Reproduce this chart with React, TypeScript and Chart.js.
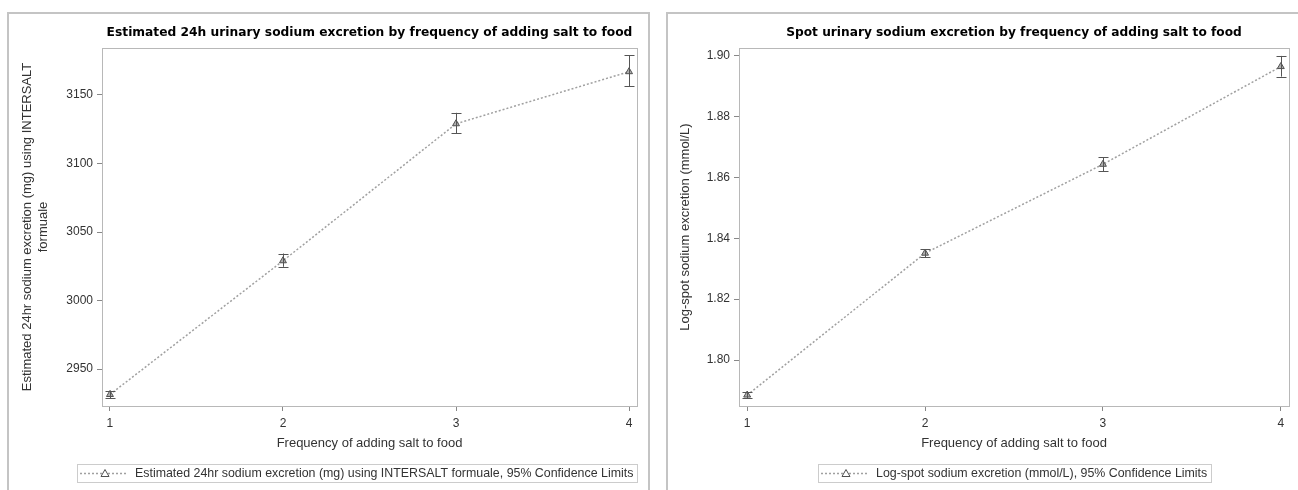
import React, { useEffect, useRef } from 'react';
import { Chart, registerables } from 'chart.js';
Chart.register(...registerables);

// ---- data ----
const xValues = [1, 2, 3, 4];
const xTicks = [1, 2, 3, 4];

const est24Mean = [2931.4, 3029, 3129, 3167];
const est24Lower = [2928.8, 3024.6, 3122, 3156.5];
const est24Upper = [2934.2, 3034.3, 3137, 3179];
const est24YTicks = [2950, 3000, 3050, 3100, 3150];

const spotMean = [1.7885, 1.8351, 1.8643, 1.8964];
const spotLower = [1.7875, 1.8338, 1.8620, 1.8931];
const spotUpper = [1.7895, 1.8364, 1.8666, 1.8999];
const spotYTicks = [1.8, 1.82, 1.84, 1.86, 1.88, 1.9];

const FONT = '"Liberation Sans", Arial, sans-serif';
const TITLE_FONT = '"DejaVu Sans", Verdana, sans-serif';

const errorBarPlugin = {
  id: 'errorBars',
  afterDatasetsDraw(chart: any, _args: any, opts: any) {
    const { ctx, scales } = chart;
    const xs = scales.x;
    const ys = scales.y;
    const lower: number[] = opts.lower || [];
    const upper: number[] = opts.upper || [];
    ctx.save();
    ctx.strokeStyle = '#555555';
    ctx.lineWidth = 1;
    ctx.setLineDash([]);
    for (let i = 0; i < xValues.length; i++) {
      const x = Math.round(xs.getPixelForValue(xValues[i])) + 0.5;
      const yl = ys.getPixelForValue(lower[i]);
      const yu = ys.getPixelForValue(upper[i]);
      ctx.beginPath();
      ctx.moveTo(x, yl);
      ctx.lineTo(x, yu);
      ctx.moveTo(x - 5, Math.round(yl) + 0.5);
      ctx.lineTo(x + 5, Math.round(yl) + 0.5);
      ctx.moveTo(x - 5, Math.round(yu) + 0.5);
      ctx.lineTo(x + 5, Math.round(yu) + 0.5);
      ctx.stroke();
    }
    ctx.restore();
  },
};

const plotBoxPlugin = {
  id: 'plotBox',
  beforeDatasetsDraw(chart: any) {
    const { ctx, chartArea: a } = chart;
    ctx.save();
    ctx.strokeStyle = '#b8b8b8';
    ctx.lineWidth = 1;
    ctx.strokeRect(Math.round(a.left) + 0.5, Math.round(a.top) + 0.5, Math.round(a.right - a.left), Math.round(a.bottom - a.top));
    ctx.restore();
  },
};

const boxLegendPlugin = {
  id: 'boxLegend',
  afterDraw(chart: any, _args: any, opts: any) {
    const { ctx, chartArea: a } = chart;
    const text: string = opts.text || '';
    ctx.save();
    ctx.font = '12.4px ' + FONT;
    const tw = ctx.measureText(text).width;
    const w = Math.round(58 + tw + 4);
    const h = 18;
    const cx = (a.left + a.right) / 2;
    let left = Math.min(cx - w / 2, a.right - w);
    left = Math.round(left);
    const top = opts.top ?? 464;
    ctx.strokeStyle = '#cccccc';
    ctx.lineWidth = 1;
    ctx.strokeRect(left + 0.5, top + 0.5, w, h);
    const cy = top + h / 2 + 0.5;
    // dotted line
    ctx.strokeStyle = '#a0a0a0';
    ctx.lineWidth = 1.5;
    ctx.setLineDash([2, 2]);
    ctx.beginPath();
    ctx.moveTo(left + 3, cy);
    ctx.lineTo(left + 50, cy);
    ctx.stroke();
    ctx.setLineDash([]);
    // triangle
    const tx = left + 28;
    const r = 4;
    ctx.beginPath();
    ctx.moveTo(tx, cy - r);
    ctx.lineTo(tx + r, cy + r * 0.75);
    ctx.lineTo(tx - r, cy + r * 0.75);
    ctx.closePath();
    ctx.fillStyle = '#ffffff';
    ctx.fill();
    ctx.strokeStyle = '#505050';
    ctx.lineWidth = 1;
    ctx.stroke();
    // text
    ctx.fillStyle = '#333333';
    ctx.textBaseline = 'middle';
    ctx.textAlign = 'left';
    ctx.fillText(text, left + 58, cy);
    ctx.restore();
  },
};

function makeConfig(p: {
  title: string;
  titleSize: number;
  yTitle: string | string[];
  yTitlePad: number;
  yTitleLH: number;
  mean: number[];
  lower: number[];
  upper: number[];
  yTicks: number[];
  yMin: number;
  yMax: number;
  yWidth: number;
  padRight: number;
  legendText: string;
  fmt: (v: number) => string;
}): any {
  const tLH = 15 / p.titleSize;
  return {
    type: 'line',
    data: {
      datasets: [
        {
          data: xValues.map((x, i) => ({ x, y: p.mean[i] })),
          borderColor: '#a0a0a0',
          borderWidth: 1.5,
          borderDash: [2, 2],
          pointStyle: 'triangle',
          pointRadius: 4,
          pointBorderWidth: 1,
          pointBorderColor: '#505050',
          pointBackgroundColor: '#b0b0b0',
          tension: 0,
          fill: false,
        },
      ],
    },
    options: {
      animation: false,
      responsive: false,
      maintainAspectRatio: false,
      layout: { padding: { left: 0, top: 0, right: p.padRight, bottom: 39 } },
      plugins: {
        legend: { display: false },
        tooltip: { enabled: false },
        title: {
          display: true,
          text: p.title,
          fullSize: false,
          color: '#000000',
          font: { family: TITLE_FONT, size: p.titleSize, weight: 'bold', lineHeight: tLH },
          padding: { top: 25.5, bottom: 7.5 },
        },
        errorBars: { lower: p.lower, upper: p.upper },
        boxLegend: { text: p.legendText, top: 464 },
      },
      scales: {
        x: {
          type: 'linear',
          min: 0.954,
          max: 4.046,
          afterBuildTicks: (s: any) => {
            s.ticks = xTicks.map((v) => ({ value: v }));
          },
          afterFit: (s: any) => {
            s.height = 45;
          },
          grid: { display: true, drawOnChartArea: false, drawTicks: true, tickLength: 5, color: '#888888' },
          border: { display: false },
          ticks: {
            color: '#333333',
            font: { family: FONT, size: 12 },
            padding: 5,
            maxRotation: 0,
            autoSkip: false,
            callback: (v: any) => String(v),
          },
          title: {
            display: true,
            text: 'Frequency of adding salt to food',
            color: '#333333',
            font: { family: FONT, size: 13, lineHeight: 1.2 },
            padding: { top: 0, bottom: 0.2 },
          },
        },
        y: {
          type: 'linear',
          min: p.yMin,
          max: p.yMax,
          afterBuildTicks: (s: any) => {
            s.ticks = p.yTicks.map((v) => ({ value: v }));
          },
          afterFit: (s: any) => {
            s.width = p.yWidth;
          },
          grid: { display: true, drawOnChartArea: false, drawTicks: true, tickLength: 5, color: '#888888' },
          border: { display: false },
          ticks: {
            color: '#333333',
            font: { family: FONT, size: 12 },
            padding: 4,
            autoSkip: false,
            callback: (v: any) => p.fmt(Number(v)),
          },
          title: {
            display: true,
            text: p.yTitle,
            color: '#333333',
            font: { family: FONT, size: 13, lineHeight: p.yTitleLH },
            padding: { top: p.yTitlePad, bottom: 0 },
          },
        },
      },
    },
    plugins: [plotBoxPlugin, errorBarPlugin, boxLegendPlugin],
  };
}

function ChartCanvas({ config, width, height, left }: { config: any; width: number; height: number; left: number }) {
  const ref = useRef<HTMLCanvasElement | null>(null);
  useEffect(() => {
    if (!ref.current) return;
    const chart = new Chart(ref.current, config);
    return () => chart.destroy();
  }, []);
  return (
    <canvas
      ref={ref}
      width={width}
      height={height}
      style={{ position: 'absolute', left, top: 0, width, height }}
    />
  );
}

export default function App() {
  const leftConfig = makeConfig({
    title: 'Estimated 24h urinary sodium excretion by frequency of adding salt to food',
    titleSize: 12.25,
    yTitle: ['Estimated 24hr sodium excretion (mg) using INTERSALT', 'formuale'],
    yTitlePad: 19,
    yTitleLH: 16 / 13,
    mean: est24Mean,
    lower: est24Lower,
    upper: est24Upper,
    yTicks: est24YTicks,
    yMin: 2923,
    yMax: 3184.3,
    yWidth: 102,
    padRight: 13,
    legendText: 'Estimated 24hr sodium excretion (mg) using INTERSALT formuale, 95% Confidence Limits',
    fmt: (v) => String(Math.round(v)),
  });
  const rightConfig = makeConfig({
    title: 'Spot urinary sodium excretion by frequency of adding salt to food',
    titleSize: 12.2,
    yTitle: 'Log-spot sodium excretion (mmol/L)',
    yTitlePad: 27.2,
    yTitleLH: 1.2,
    mean: spotMean,
    lower: spotLower,
    upper: spotUpper,
    yTicks: spotYTicks,
    yMin: 1.7849,
    yMax: 1.9025,
    yWidth: 89,
    padRight: 9,
    legendText: 'Log-spot sodium excretion (mmol/L), 95% Confidence Limits',
    fmt: (v) => v.toFixed(2),
  });
  return (
    <div style={{ position: 'absolute', left: 0, top: 0, width: 1298, height: 490, overflow: 'hidden', background: '#ffffff' }}>
      <div style={{ position: 'absolute', left: 7, top: 12, width: 643, height: 500, boxSizing: 'border-box', border: '2px solid #c4c4c4' }} />
      <div style={{ position: 'absolute', left: 666, top: 12, width: 700, height: 500, boxSizing: 'border-box', border: '2px solid #c4c4c4' }} />
      <ChartCanvas config={leftConfig} width={650} height={490} left={0} />
      <ChartCanvas config={rightConfig} width={648} height={490} left={650} />
    </div>
  );
}
